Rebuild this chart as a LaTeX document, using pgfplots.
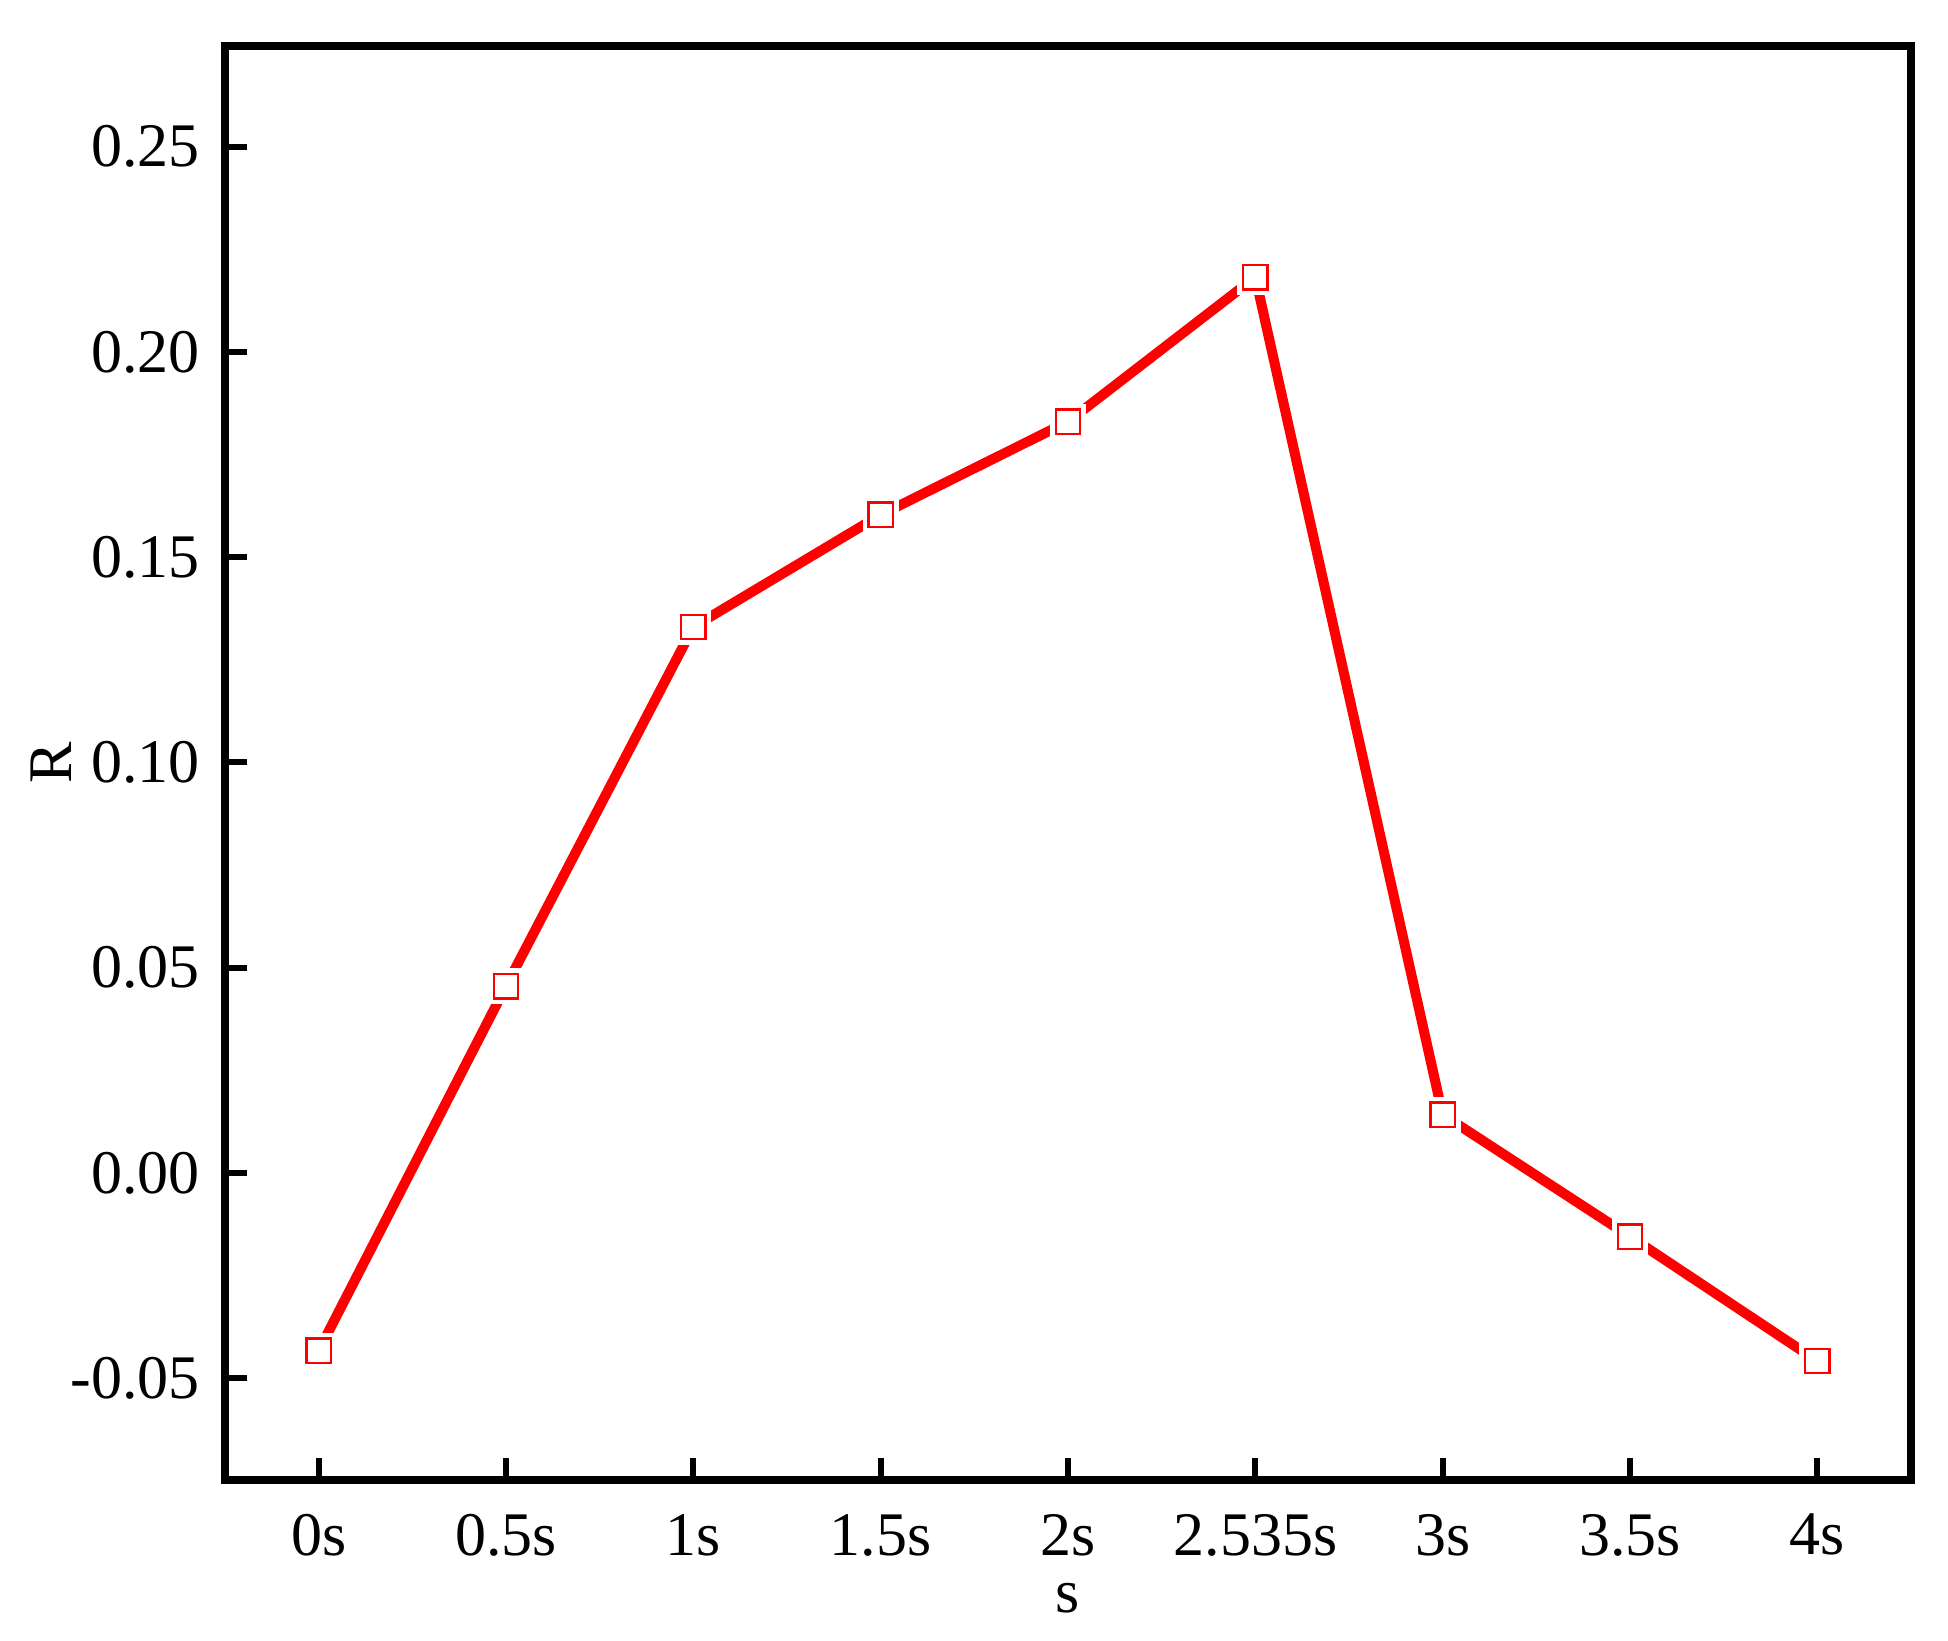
\documentclass[border=0pt]{standalone}
\usepackage{pgfplots}
\pgfplotsset{compat=1.18}
\usepackage{fontspec}
\setmainfont{Liberation Serif}

\pgfplotstableread{
x y
0 -0.0433
1 0.0455
2 0.1330
3 0.1603
4 0.1830
5 0.2182
6 0.0142
7 -0.0155
8 -0.0458
}\datatable

\begin{document}
\begin{tikzpicture}
\begin{axis}[
name=ax,
scale only axis,
width=421.5pt,height=358.5pt,
xmin=-0.5,xmax=8.5,
ymin=-0.0748,ymax=0.2745,
axis line style={line width=1.8pt},
every tick/.style={black,line width=1.5pt},
major tick length=5.5pt,
tick align=inside,
xtick pos=bottom,ytick pos=left,
xtick={0,1,2,3,4,5,6,7,8},
xticklabels={0s,0.5s,1s,1.5s,2s,2.535s,3s,3.5s,4s},
ytick={-0.05,0,0.05,0.1,0.15,0.2,0.25},
yticklabels={-0.05,0.00,0.05,0.10,0.15,0.20,0.25},
tick label style={font=\fontsize{15.5}{18}\selectfont},
xticklabel style={yshift=-5pt},
yticklabel style={xshift=-2.8pt},
label style={font=\fontsize{15.5}{18}\selectfont},
xlabel={s},
ylabel={R},
xlabel style={at={(axis description cs:0.5,0)},anchor=center,yshift=-29.5pt},
ylabel style={at={(axis description cs:0,0.5)},anchor=center,yshift=43.5pt},
clip=false,
]
\addplot[red,line width=2.5pt,line cap=round,line join=round] table[x=x,y=y] {\datatable};
\addplot[only marks,mark=square*,mark size=4.4pt,mark options={draw=white,fill=white,line width=0pt}] table[x=x,y=y] {\datatable};
\addplot[only marks,mark=square*,mark size=3.05pt,mark options={draw=red,fill=white,line width=0.6pt}] table[x=x,y=y] {\datatable};
\end{axis}
\path (ax.south west) ++(-56.25pt,-40pt) coordinate (bl);
\path (ax.north east) ++(9.25pt,11.5pt) coordinate (tr);
\path (bl) rectangle (tr);
\end{tikzpicture}
\end{document}
